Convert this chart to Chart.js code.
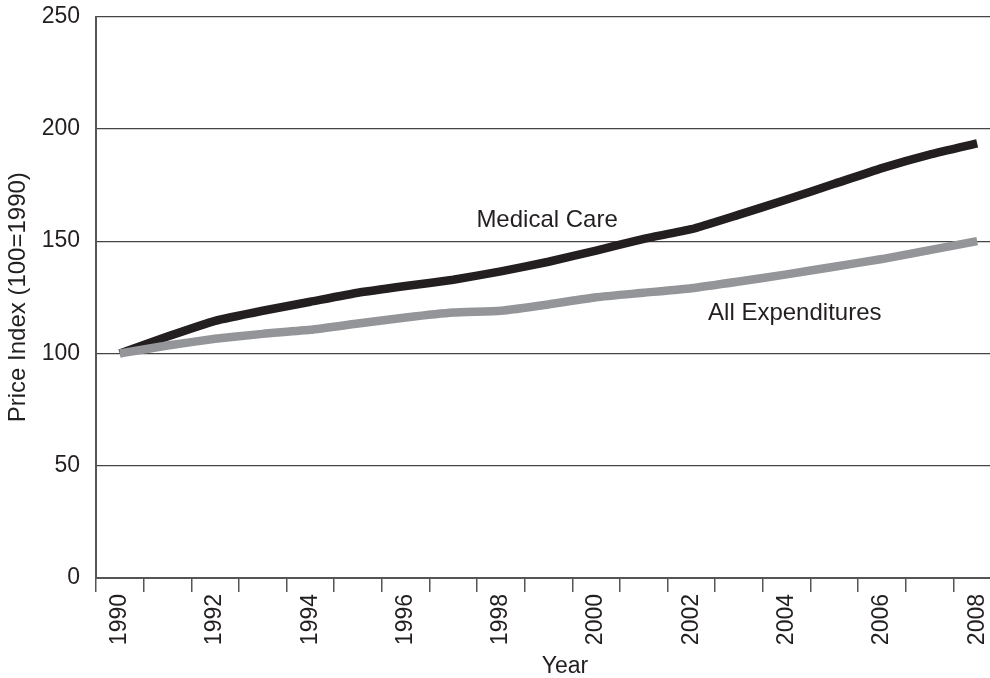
<!DOCTYPE html>
<html>
<head>
<meta charset="utf-8">
<script src="https://cdn.jsdelivr.net/npm/chart.js@4.4.1/dist/chart.umd.min.js"></script>
<style>
  html, body { margin: 0; padding: 0; background: #fff; overflow: hidden; }
  #wrap { width: 990px; height: 678px; overflow: hidden; }
</style>
</head>
<body>
<div id="wrap"><canvas id="chart" width="1010" height="678"></canvas></div>
<script>
// data
const years = ['1990', '1991', '1992', '1993', '1994', '1995', '1996', '1997', '1998', '1999',
               '2000', '2001', '2002', '2003', '2004', '2005', '2006', '2007', '2008'];
const medicalCare = [100, 107.5, 114.5, 119, 123, 127, 130, 132.8, 136.5, 140.8,
                     145.8, 151, 155.3, 161.8, 168.5, 175.5, 182.5, 188.5, 193.5];
const allExpenditures = [100, 103.5, 106.5, 108.7, 110.5, 113.3, 116, 118.2, 119, 121.8,
                         125, 127, 129, 132, 135.2, 138.6, 142, 146, 150];
const yTicks = [0, 50, 100, 150, 200, 250];

const FONT = "'Liberation Sans', Arial, Helvetica, sans-serif";
const INK = '#231f20';

// in-plot labels and the x axis title
const labelPlugin = {
    id: 'labels',
    afterDraw(chart) {
        const { ctx, scales: { x, y } } = chart;
        ctx.save();
        ctx.fillStyle = INK;
        ctx.textBaseline = 'alphabetic';
        ctx.font = '24px ' + FONT;

        ctx.textAlign = 'center';
        ctx.fillText('Medical Care', x.getPixelForValue(8.97), y.getPixelForValue(156.5));

        ctx.textAlign = 'left';
        ctx.fillText('All Expenditures', x.getPixelForValue(12.35), y.getPixelForValue(115));

        ctx.font = '23px ' + FONT;
        ctx.textAlign = 'center';
        ctx.fillText('Year', 565, 673);
        ctx.restore();
    }
};

new Chart(document.getElementById('chart'), {
    type: 'line',
    data: {
        labels: years,
        datasets: [
            {
                label: 'All Expenditures',
                data: allExpenditures,
                borderColor: '#939598',
                borderWidth: 8.5,
                pointRadius: 0,
                tension: 0.15,
                order: 0
            },
            {
                label: 'Medical Care',
                data: medicalCare,
                borderColor: INK,
                borderWidth: 8.5,
                pointRadius: 0,
                tension: 0.15,
                order: 1
            }
        ]
    },
    options: {
        responsive: false,
        animation: false,
        layout: { padding: { top: 16.5, right: 9, left: 0, bottom: 0 } },
        plugins: {
            legend: { display: false },
            tooltip: { enabled: false }
        },
        scales: {
            x: {
                offset: true,
                grid: {
                    offset: true,
                    drawOnChartArea: false,
                    tickLength: 14,
                    tickColor: '#555',
                    lineWidth: 1.5
                },
                border: { color: '#555', width: 2 },
                ticks: {
                    autoSkip: false,
                    minRotation: 90,
                    maxRotation: 90,
                    padding: 2,
                    color: INK,
                    font: { family: FONT, size: 23 },
                    callback: (v, i) => (i % 2 === 0 ? years[i] : '')
                },
                afterFit: s => { s.height = 100; }
            },
            y: {
                min: 0,
                max: 250,
                afterBuildTicks: s => { s.ticks = yTicks.map(v => ({ value: v })); },
                grid: {
                    drawTicks: false,
                    color: '#444',
                    lineWidth: 1.2
                },
                border: { color: '#555', width: 2 },
                ticks: {
                    padding: 16,
                    color: INK,
                    font: { family: FONT, size: 23 }
                },
                title: {
                    display: true,
                    text: 'Price Index (100=1990)',
                    color: INK,
                    font: { family: FONT, size: 24 },
                    padding: { top: 4, bottom: 0 }
                },
                afterFit: s => {
                    s.width = 96;
                    s.paddingTop = 0;
                    s.paddingBottom = 0;
                }
            }
        }
    },
    plugins: [labelPlugin]
});
</script>
</body>
</html>
